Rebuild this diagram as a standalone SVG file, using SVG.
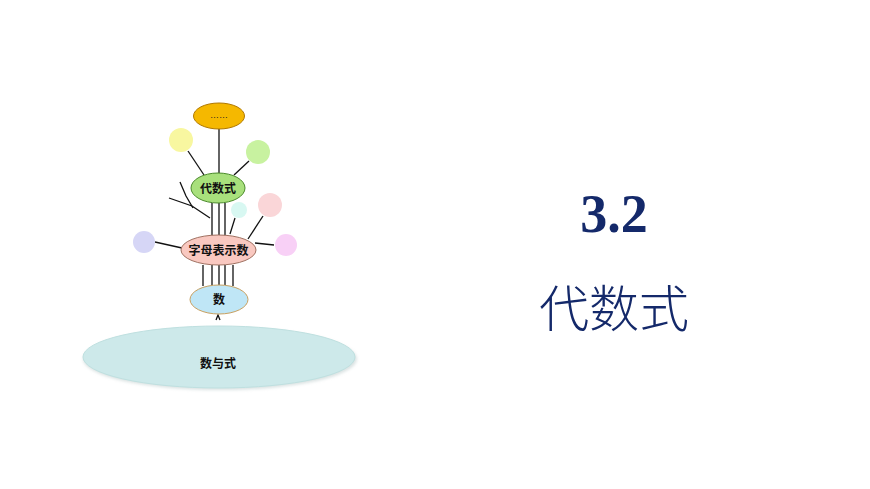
<svg xmlns="http://www.w3.org/2000/svg" width="870" height="489" viewBox="0 0 870 489">
<defs>
<style>
.lbl{font-family:"Noto Sans CJK SC","Noto Sans",sans-serif;font-size:12px;font-weight:bold;fill:#111;text-anchor:middle}
.ln{stroke:#111;stroke-width:1.3;fill:none}
.bud{stroke:none}
</style>
<filter id="blur" x="-10%" y="-30%" width="120%" height="160%"><feGaussianBlur stdDeviation="1.5"/></filter>
</defs>
<rect width="870" height="489" fill="#fff"/>
<g id="connectors">
<line class="ln" x1="219" y1="129" x2="219" y2="174"/>
<line class="ln" x1="188" y1="151" x2="204" y2="175"/>
<line class="ln" x1="249" y1="161" x2="234" y2="175"/>
<polyline class="ln" points="169,198 192,206 210,218"/>
<polyline class="ln" points="180,182 186,196 193,208"/>
<line class="ln" x1="212" y1="203" x2="212" y2="237"/>
<line class="ln" x1="219" y1="203" x2="219" y2="236"/>
<line class="ln" x1="225" y1="203" x2="225" y2="237"/>
<line class="ln" x1="235" y1="218" x2="230" y2="234"/>
<line class="ln" x1="263" y1="216" x2="248" y2="239"/>
<line class="ln" x1="155" y1="242" x2="182" y2="248"/>
<line class="ln" x1="255" y1="243" x2="274" y2="245"/>
<line class="ln" x1="203" y1="265" x2="203" y2="286"/>
<line class="ln" x1="212" y1="265" x2="212" y2="285"/>
<line class="ln" x1="219" y1="265" x2="219" y2="285"/>
<line class="ln" x1="225" y1="265" x2="225" y2="285"/>
<line class="ln" x1="233" y1="265" x2="233" y2="286"/>
<polyline class="ln" points="216,320 218,315 220,320" stroke-width="1"/>
</g>
<g id="base">
<ellipse cx="220" cy="359" rx="137" ry="31" fill="#b8c8c8" opacity="0.5" filter="url(#blur)"/>
<ellipse cx="219" cy="357" rx="136" ry="31" fill="#cde9ea" stroke="#bfe0e0" stroke-width="1"/>
<text class="lbl" x="218" y="368">数与式</text>
</g>
<g id="shu">
<ellipse cx="219" cy="299.5" rx="29" ry="14.5" fill="#bfe6f6" stroke="#c8a060" stroke-width="1"/>
<text class="lbl" x="219" y="304">数</text>
</g>
<g id="zimu">
<ellipse cx="218.5" cy="250" rx="37.5" ry="15" fill="#f9c8c0" stroke="#a07060" stroke-width="1"/>
<text class="lbl" x="218.5" y="254.5">字母表示数</text>
</g>
<g id="daishu">
<ellipse cx="218" cy="188" rx="27" ry="15" fill="#a8e07c" stroke="#4a8a2a" stroke-width="1"/>
<text class="lbl" x="218" y="192.5">代数式</text>
</g>
<g id="more">
<ellipse cx="219" cy="116" rx="25.5" ry="13" fill="#f5b800" stroke="#b07800" stroke-width="1"/>
<text x="219" y="118" font-family="Liberation Sans,sans-serif" font-size="9" fill="#222" text-anchor="middle">……</text>
</g>
<g id="bud-yellow"><circle class="bud" cx="181" cy="140" r="12" fill="#f8f7a0"/></g>
<g id="bud-green"><circle class="bud" cx="258" cy="152" r="12" fill="#c8f2a0"/></g>
<g id="bud-cyan"><circle class="bud" cx="239" cy="210" r="8" fill="#d8f8f2"/></g>
<g id="bud-pink"><circle class="bud" cx="270" cy="205" r="12" fill="#fad6d8"/></g>
<g id="bud-lavender"><circle class="bud" cx="144" cy="242" r="11" fill="#d6d6f6"/></g>
<g id="bud-magenta"><circle class="bud" cx="286" cy="245" r="11" fill="#f8d0f6"/></g>
<g id="title">
<text x="614" y="232" font-family="Liberation Serif,serif" font-size="54" font-weight="bold" fill="#14296a" text-anchor="middle">3.2</text>
<text x="614" y="327" font-family="Noto Sans CJK SC,sans-serif" font-size="50" font-weight="300" fill="#14296a" text-anchor="middle">代数式</text>
</g>
</svg>
